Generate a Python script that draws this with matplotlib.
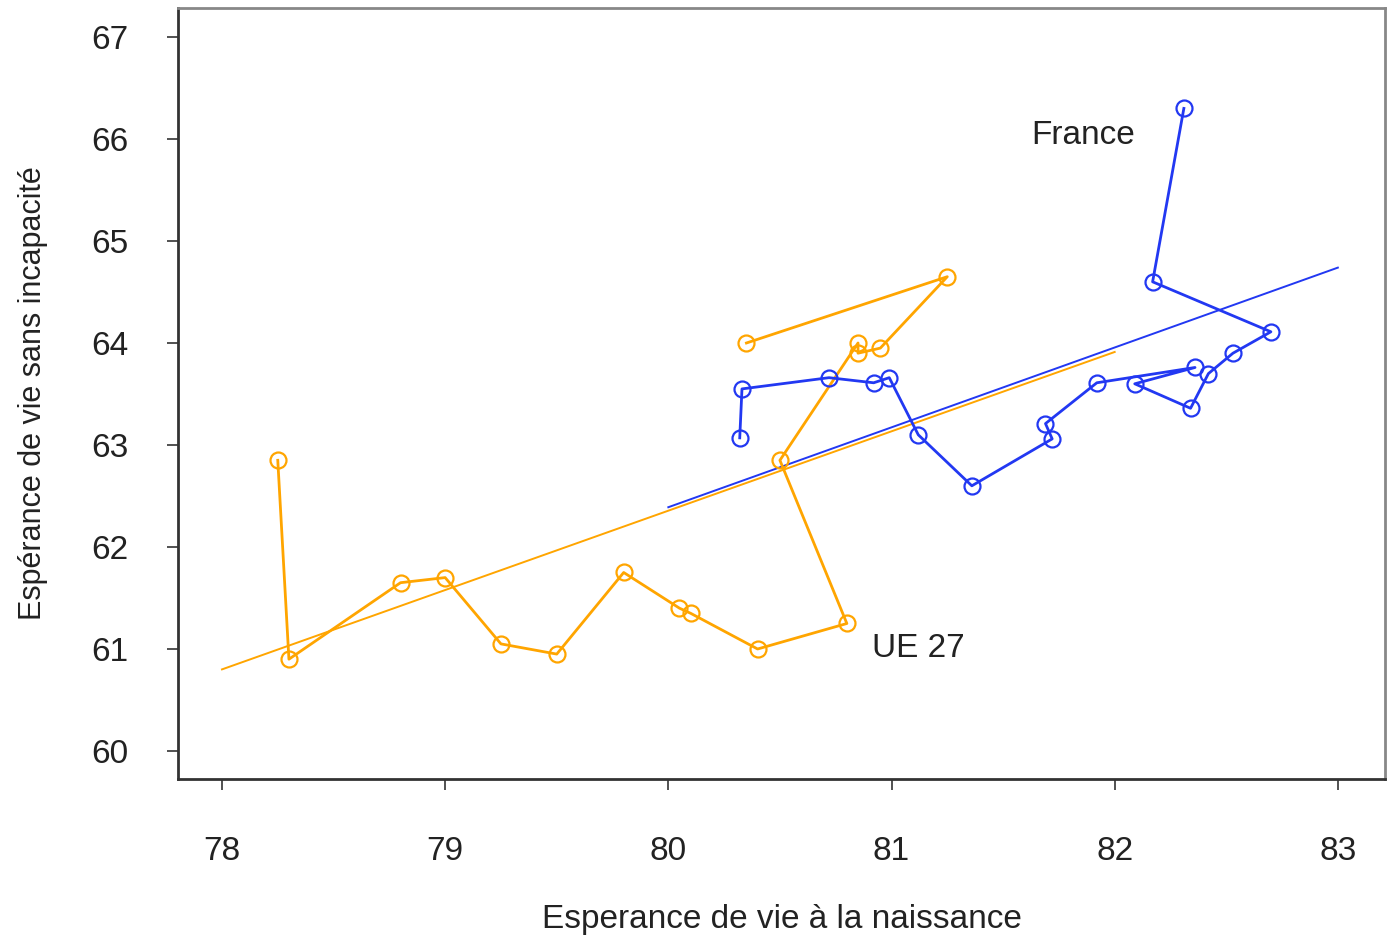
import numpy as np
import matplotlib.pyplot as plt

plt.rcParams['font.family'] = ['Liberation Sans', 'DejaVu Sans']

# UE 27 : espérance de vie à la naissance / sans incapacité
ue_x = [78.25, 78.30, 78.80, 79.00, 79.25, 79.50, 79.80, 80.05, 80.10, 80.40,
        80.80, 80.50, 80.85, 80.85, 80.95, 81.25, 80.35]
ue_y = [62.85, 60.90, 61.65, 61.70, 61.05, 60.95, 61.75, 61.40, 61.35, 61.00,
        61.25, 62.85, 64.00, 63.90, 63.95, 64.65, 64.00]

# France
fr_x = [82.31, 82.17, 82.70, 82.53, 82.42, 82.34, 82.09, 82.36, 81.92, 81.69,
        81.72, 81.36, 81.12, 80.99, 80.92, 80.72, 80.33, 80.32]
fr_y = [66.30, 64.60, 64.11, 63.90, 63.70, 63.36, 63.60, 63.76, 63.61, 63.21,
        63.06, 62.60, 63.10, 63.66, 63.61, 63.66, 63.55, 63.07]

# droites de tendance : (x début, x fin, ordonnée à x début, pente)
ue_fit = (78.0, 82.0, 60.80, 0.778)
fr_fit = (80.0, 83.0, 62.39, 0.783)

x_ticks = [78, 79, 80, 81, 82, 83]
y_ticks = [60, 61, 62, 63, 64, 65, 66, 67]

orange = '#FFA500'
blue = '#2238F2'

fig = plt.figure(figsize=(13.94, 9.35), dpi=100)
ax = fig.add_axes([0.1277, 0.1668, 0.8658, 0.8246])

def trend(fit, color):
    x0, x1, b, a = fit
    xs = np.array([x0, x1])
    ax.plot(xs, b + a * (xs - x0), color=color, lw=1.4, zorder=2)

trend(ue_fit, orange)
trend(fr_fit, blue)

ax.plot(ue_x, ue_y, color=orange, lw=2, marker='o', ms=11.5,
        mfc='none', mec=orange, mew=1.6, zorder=3)
ax.plot(fr_x, fr_y, color=blue, lw=2, marker='o', ms=11.5,
        mfc='none', mec=blue, mew=1.6, zorder=3)

ax.text(81.86, 66.03, 'France', fontsize=24, ha='center', va='center', color='#222222')
ax.text(81.12, 61.0, 'UE 27', fontsize=24, ha='center', va='center', color='#222222')

ax.set_xlim(77.803, 83.211)
ax.set_ylim(59.725, 67.284)
ax.set_xticks(x_ticks)
ax.set_yticks(y_ticks)
ax.tick_params(axis='both', direction='out', length=8, width=1.2,
               labelsize=24, colors='#333333', labelcolor='#222222')
ax.tick_params(axis='y', pad=28)
ax.tick_params(axis='x', pad=33)

for side in ['left', 'bottom']:
    ax.spines[side].set_color('#333333')
    ax.spines[side].set_linewidth(2)
for side in ['top', 'right']:
    ax.spines[side].set_color('#888888')
    ax.spines[side].set_linewidth(2)

ax.set_xlabel('Esperance de vie à la naissance', fontsize=24, labelpad=27, color='#222222')
ax.set_ylabel('Espérance de vie sans incapacité', fontsize=22, labelpad=31, color='#222222')

fig.savefig('out.png', dpi=100)
